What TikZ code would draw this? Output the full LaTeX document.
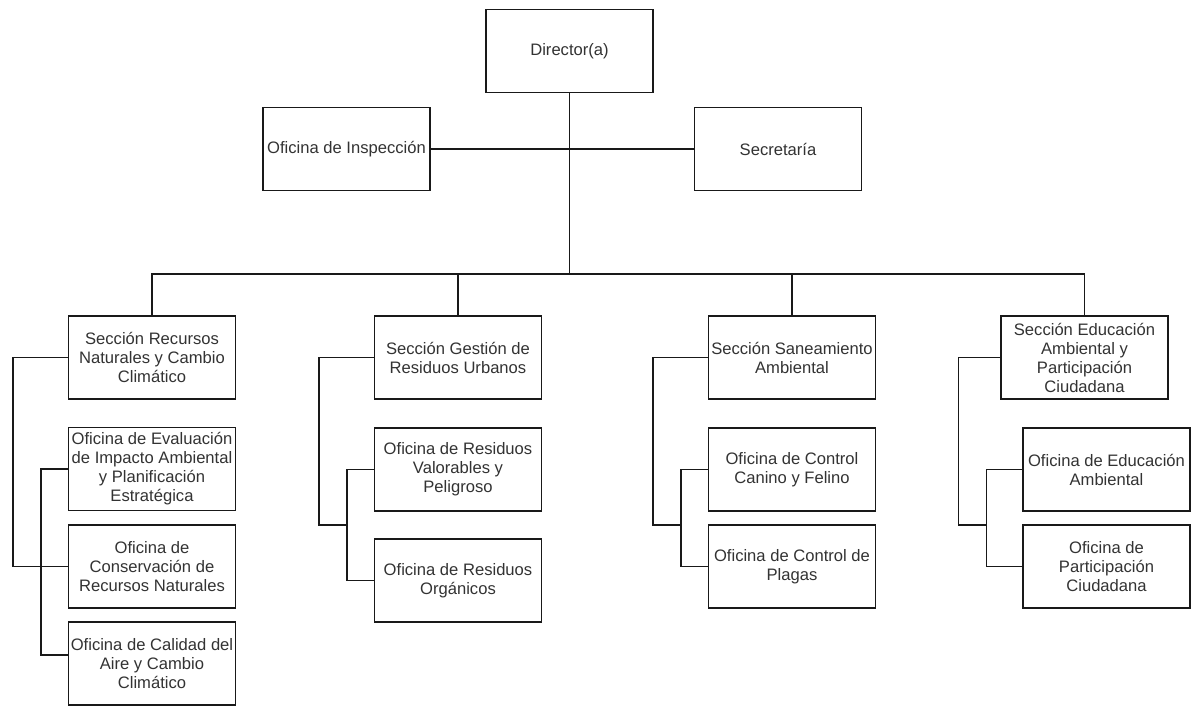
\documentclass[tikz,border=0pt]{standalone}
\usepackage{fontspec}
\setmainfont{Liberation Sans}
\begin{document}
\begin{tikzpicture}[x=1pt,y=-1pt,
  unit/.style={draw=black!90, line width=1.3pt, fill=white, inner sep=0pt,
    minimum width=167pt, minimum height=83pt, align=center,
    text=black!80, font=\fontsize{16.6}{19}\selectfont},
  link/.style={draw=black!90, line width=1.3pt}]
\useasboundingbox (0,0) rectangle (1193,706);

% top level
\node[unit] (dir)  at (569.5,51)  {Director(a)};
\node[unit] (insp) at (346.5,149) {Oficina de Inspección};
\node[unit] (sec)  at (778,149)   {Secretaría};

% sections
\node[unit] (s1) at (152,357.5)  {Sección Recursos\\Naturales y Cambio\\Climático};
\node[unit] (s2) at (458,357.5)  {Sección Gestión de\\Residuos Urbanos};
\node[unit] (s3) at (792,357.5)  {Sección Saneamiento\\Ambiental};
\node[unit] (s4) at (1084.5,357.5) {Sección Educación\\Ambiental y\\Participación\\Ciudadana};

% offices
\node[unit] (o11) at (152,469)   {Oficina de Evaluación\\de Impacto Ambiental\\y Planificación\\Estratégica};
\node[unit] (o12) at (152,566.5) {Oficina de\\Conservación de\\Recursos Naturales};
\node[unit] (o13) at (152,663.5) {Oficina de Calidad del\\Aire y Cambio\\Climático};
\node[unit] (o21) at (458,469.5) {Oficina de Residuos\\Valorables y\\Peligroso};
\node[unit] (o22) at (458,580.5) {Oficina de Residuos\\Orgánicos};
\node[unit] (o31) at (792,469.5) {Oficina de Control\\Canino y Felino};
\node[unit] (o32) at (792,566.5) {Oficina de Control de\\Plagas};
\node[unit] (o41) at (1106.5,469.5) {Oficina de Educación\\Ambiental};
\node[unit] (o42) at (1106.5,566.5) {Oficina de\\Participación\\Ciudadana};

% junction points
\coordinate (bus) at (569.5,274);
\coordinate (j2) at (347,525);
\coordinate (j3) at (681,525);
\coordinate (j4) at (987,525);

% director branch
\draw[link] (dir.south) -- (bus);
\draw[link] (insp.east) -- (sec.west);
\draw[link] (bus) -| (s1.north);
\draw[link] (bus) -| (s2.north);
\draw[link] (bus) -| (s3.north);
\draw[link] (bus) -| (s4.north);

% section 1
\draw[link] (s1.west) -- ++(-55,0) |- (o12.west);
\draw[link] (o11.west) -- ++(-27,0) |- ([yshift=8.5pt]o13.west);

% section 2
\draw[link] (s2.west) -- ++(-55,0) |- (j2);
\draw[link] (o21.west) -- ++(-27,0) |- (o22.west);

% section 3
\draw[link] (s3.west) -- ++(-55,0) |- (j3);
\draw[link] (o31.west) -- ++(-27,0) |- (o32.west);

% section 4
\draw[link] (s4.west) -- ++(-42,0) |- (j4);
\draw[link] (o41.west) -- ++(-36,0) |- (o42.west);
\end{tikzpicture}
\end{document}
